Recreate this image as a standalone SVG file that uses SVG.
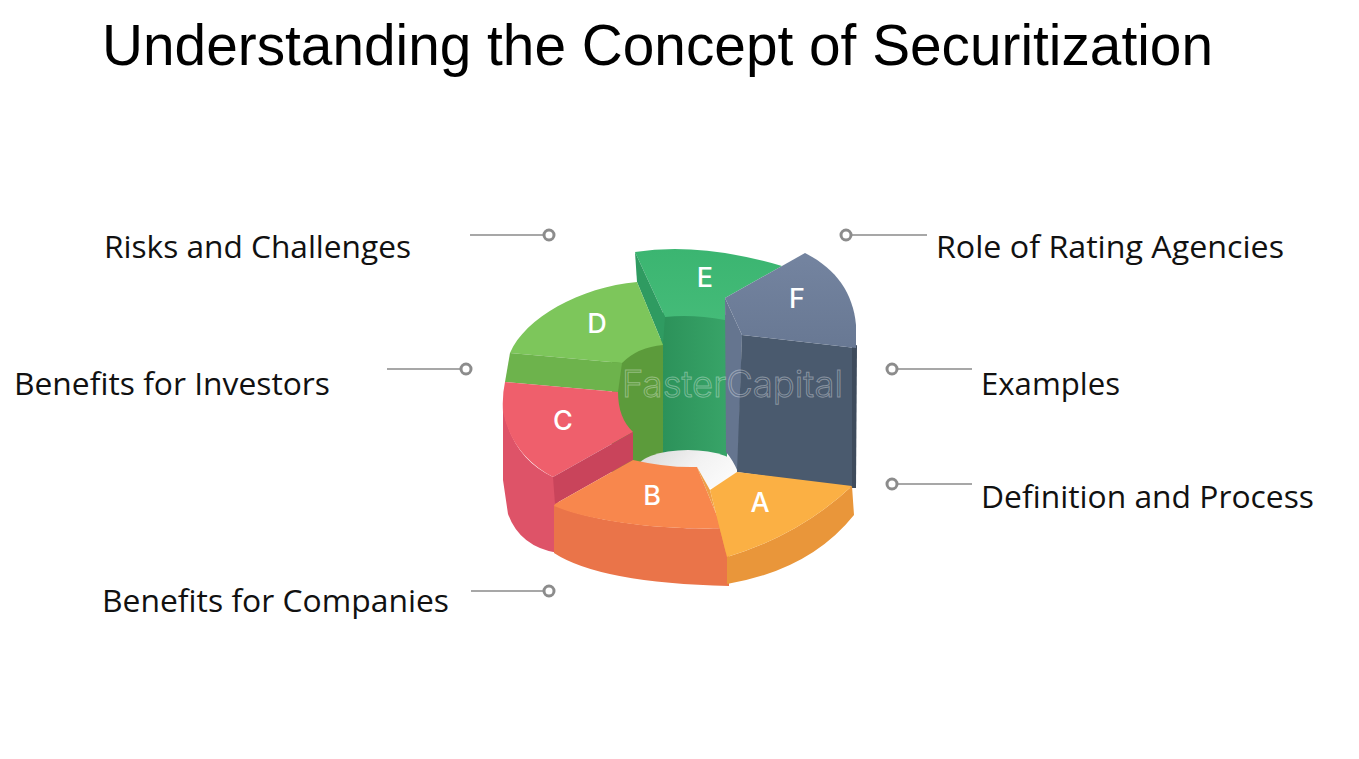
<svg xmlns="http://www.w3.org/2000/svg" width="1359" height="759" viewBox="0 0 1359 759">
<defs>
<style>
.lbl{font-family:"Open Sans","Liberation Sans",sans-serif;font-size:31px;fill:#111;}
.ttl{font-family:"Liberation Sans",Arial,sans-serif;font-size:58px;fill:#000;}
.let{font-family:Inter,"Liberation Sans",sans-serif;font-size:27px;font-weight:500;fill:#fff;text-anchor:middle;}
.ln{stroke:#8a8a8a;stroke-width:1.3;fill:none;}
.dot{fill:#fff;stroke:#8c8c8c;stroke-width:3;}
.wm{font-family:Inter,"Liberation Sans",sans-serif;font-size:37px;font-weight:300;fill:none;stroke:#ffffff;stroke-opacity:0.35;stroke-width:1;}
</style>
<linearGradient id="hole" x1="0" y1="0" x2="1" y2="0.4">
<stop offset="0" stop-color="#d6d6d6"/><stop offset="0.6" stop-color="#f2f2f2"/><stop offset="1" stop-color="#fafafa"/>
</linearGradient>
<linearGradient id="ewall" x1="0" y1="0" x2="1" y2="0">
<stop offset="0" stop-color="#2c925a"/><stop offset="1" stop-color="#38a468"/>
</linearGradient>
<linearGradient id="ftop" x1="0" y1="0" x2="0" y2="1">
<stop offset="0" stop-color="#7484a0"/><stop offset="1" stop-color="#687893"/>
</linearGradient>
<linearGradient id="etop" x1="0" y1="0" x2="0" y2="1">
<stop offset="0" stop-color="#3bb571"/><stop offset="1" stop-color="#44bb78"/>
</linearGradient>
</defs>
<rect width="1359" height="759" fill="#fff"/>
<text class="ttl" x="102" y="65" textLength="1111" lengthAdjust="spacingAndGlyphs">Understanding the Concept of Securitization</text>

<g id="chart">
<g id="seg-D-inner"><path d="M612,360 Q640,342 665,338 L665,472 L612,472 Z" fill="#5c9b3b"/></g>
<g id="seg-E-inner"><path d="M663,310 L727,315 L727,472 L663,472 Z" fill="url(#ewall)"/></g>
<g id="hole-g"><ellipse cx="688" cy="470" rx="52" ry="20" fill="url(#hole)"/></g>
<g id="seg-E">
<path d="M635,252 Q700,242 782,266 L725,298 L725,320 Q693,314 665,317 Z" fill="url(#etop)"/>
<path d="M635,252 L665,317 L663,345 L637,282 Z" fill="#2f9b61"/>
<text class="let" x="705" y="287">E</text>
</g>
<g id="seg-D">
<path d="M510,353 C525,318 580,287 637,282 L663,345 Q638,347 622,363 Z" fill="#7dc65b"/>
<path d="M510,353 L622,363 L618,392 L505,382 Z" fill="#6db34c"/>
<text class="let" x="597" y="333">D</text>
</g>
<g id="seg-F">
<path d="M725,298 L742,335 L738,472 Q733,460 726,452 Z" fill="#65758f"/>
<path d="M742,335 L856,348 L853,488 L737,472 Z" fill="#4a5a6e"/>
<path d="M852,347 L857,345 L856,488 L852,488 Z" fill="#3e4b5c"/>
<path d="M725,298 L805,253 C835,268 853,292 856,325 L856,348 L742,335 Z" fill="url(#ftop)"/>
<text class="let" x="797" y="308">F</text>
</g>
<g id="seg-C">
<path d="M503,408 Q512,458 553,477 L558,477 L558,553 Q520,547 508,514 L503,480 Z" fill="#de5368"/>
<path d="M505,382 L618,392 Q618,418 633,432 L553,477 Q512,455 503,412 Q502,395 505,382 Z" fill="#ef5f6c"/>
<path d="M553,477 L633,432 L633,460 L555,504 Z" fill="#c9445b"/>
<text class="let" x="563" y="430">C</text>
</g>
<g id="seg-B">
<path d="M554,505 C600,525 680,530 722,528 L729,532 L729,586 Q600,583 554,553 Z" fill="#ea7449"/>
<path d="M555,504 L633,460 Q668,468 697,467 L722,528 C680,530 600,525 554,506 Z" fill="#f8874d"/>
<path d="M697,467 L710,490 L727,557 L722,528 Z" fill="#ee9e47"/>
<text class="let" x="652" y="505">B</text>
</g>
<g id="seg-A">
<path d="M727,557 Q800,535 852,486 L854,515 Q810,570 727,584 Z" fill="#e9963a"/>
<path d="M710,490 L737,472 L852,486 Q800,535 727,557 Z" fill="#fbb044"/>
<text class="let" x="760" y="512">A</text>
</g>
<text class="wm" x="622" y="397" textLength="221" lengthAdjust="spacingAndGlyphs">FasterCapital</text>
</g>

<g id="connectors">
<line class="ln" x1="470" y1="235" x2="544" y2="235"/><circle class="dot" cx="549" cy="235" r="5"/>
<line class="ln" x1="387" y1="369" x2="461" y2="369"/><circle class="dot" cx="466" cy="369" r="5"/>
<line class="ln" x1="471" y1="591" x2="544" y2="591"/><circle class="dot" cx="549" cy="591" r="5"/>
<line class="ln" x1="852" y1="235" x2="927" y2="235"/><circle class="dot" cx="846" cy="235" r="5"/>
<line class="ln" x1="897" y1="369" x2="972" y2="369"/><circle class="dot" cx="892" cy="369" r="5"/>
<line class="ln" x1="897" y1="484" x2="972" y2="484"/><circle class="dot" cx="892" cy="484" r="5"/>
</g>

<g id="label-risks"><text class="lbl" x="104" y="258" textLength="307" lengthAdjust="spacingAndGlyphs">Risks and Challenges</text></g>
<g id="label-investors"><text class="lbl" x="14" y="395" textLength="316" lengthAdjust="spacingAndGlyphs">Benefits for Investors</text></g>
<g id="label-companies"><text class="lbl" x="102" y="612" textLength="347" lengthAdjust="spacingAndGlyphs">Benefits for Companies</text></g>
<g id="label-rating"><text class="lbl" x="936" y="258" textLength="348" lengthAdjust="spacingAndGlyphs">Role of Rating Agencies</text></g>
<g id="label-examples"><text class="lbl" x="981" y="395" textLength="139" lengthAdjust="spacingAndGlyphs">Examples</text></g>
<g id="label-definition"><text class="lbl" x="981" y="508" textLength="333" lengthAdjust="spacingAndGlyphs">Definition and Process</text></g>
</svg>
